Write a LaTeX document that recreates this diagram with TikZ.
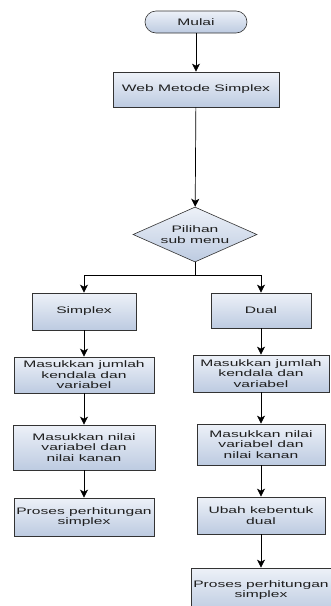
\documentclass[tikz,border=0pt]{standalone}
\usepackage{fontspec}
\setmainfont[FakeStretch=1.66]{Liberation Sans}
\usetikzlibrary{shapes.geometric,arrows.meta,shadings}
\definecolor{boxtop}{HTML}{EDF1F8}
\definecolor{boxbot}{HTML}{BDCBE1}
\definecolor{txt}{HTML}{1E1E1E}
\tikzset{
  base/.style={draw=black!80, line width=0.6pt, top color=boxtop, bottom color=boxbot,
    inner sep=0pt, align=center, text=txt, font=\fontsize{9.4}{10.6}\selectfont},
  procbox/.style={base, rectangle},
  termbox/.style={base, rectangle, rounded corners=11pt},
  decbox/.style={base, diamond, aspect=2.25},
  conn/.style={draw=black, line width=0.7pt},
  arr/.style={conn, -{Stealth[length=8pt,width=8pt,inset=2pt]}}
}
\begin{document}
\begin{tikzpicture}[x=1pt,y=-1pt]
\useasboundingbox[fill=white] (0,0) rectangle (331,606);
\node[termbox, minimum width=102pt, minimum height=22pt] (mulai) at (196,22) {Mulai};
\node[procbox, minimum width=166pt, minimum height=35pt] (web) at (196,89.5) {Web Metode Simplex};
\node[decbox, minimum width=124pt, minimum height=55pt] (pil) at (195,234.5) {Pilihan\\sub menu};
\coordinate (j) at (195,275);
% left column
\node[procbox, minimum width=104pt, minimum height=37pt] (simplex) at (84,311.5) {Simplex};
\node[procbox, minimum width=140pt, minimum height=36pt] (ljum) at (84,375) {Masukkan jumlah\\kendala dan\\variabel};
\node[procbox, minimum width=142pt, minimum height=45pt] (lnil) at (84,447.5) {Masukkan nilai\\variabel dan\\nilai kanan};
\node[procbox, minimum width=140pt, minimum height=38pt] (lpro) at (84,517) {Proses perhitungan\\simplex};
% right column
\node[procbox, minimum width=100pt, minimum height=35pt] (dual) at (261,310.5) {Dual};
\node[procbox, minimum width=136pt, minimum height=37pt] (rjum) at (261,373.5) {Masukkan jumlah\\kendala dan\\variabel};
\node[procbox, minimum width=128pt, minimum height=41pt] (rnil) at (261,444.5) {Masukkan nilai\\variabel dan\\nilai kanan};
\node[procbox, minimum width=128pt, minimum height=37pt] (ubah) at (261,515.5) {Ubah kebentuk\\dual};
\node[procbox, minimum width=140pt, minimum height=44pt] (rpro) at (261,590) {Proses perhitungan\\simplex};
% connectors
\draw[arr] (mulai) -- (web);
\draw[arr] (web) -- (pil);
\draw[conn] (pil) -- (j);
\draw[arr] (j) -| (simplex);
\draw[arr] (j) -| (dual);
\draw[arr] (simplex) -- (ljum);
\draw[arr] (ljum) -- (lnil);
\draw[arr] (lnil) -- (lpro);
\draw[arr] (dual) -- (rjum);
\draw[arr] (rjum) -- (rnil);
\draw[arr] (rnil) -- (ubah);
\draw[arr] (ubah) -- (rpro);
\end{tikzpicture}
\end{document}
